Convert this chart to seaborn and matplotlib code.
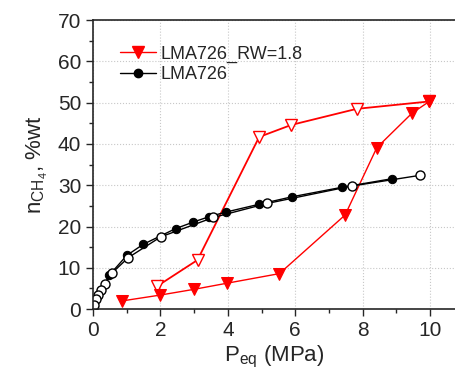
"""Isoterma de CH4 - LMA726."""
from matplotlib import pyplot as plt
from matplotlib.lines import Line2D
import seaborn as sns

# LMA726_RW=1.8 (adsorcao, simbolos cheios)
rw_ads_p = [0.87, 1.99, 3.00, 3.99, 5.53, 7.48, 8.42, 9.47, 9.98]
rw_ads_n = [2.0, 3.4, 4.8, 6.3, 8.6, 22.8, 39.1, 47.5, 50.3]
# LMA726_RW=1.8 (dessorcao, simbolos vazios)
rw_des_p = [9.98, 7.82, 5.88, 4.93, 3.10, 1.91]
rw_des_n = [50.3, 48.5, 44.6, 41.7, 11.9, 5.6]

# LMA726 (adsorcao)
ads_p = [0.03, 0.48, 1.00, 1.49, 2.45, 2.98, 3.45, 3.94, 4.93, 5.90, 7.38, 8.88]
ads_n = [0.5, 8.2, 13.0, 15.7, 19.5, 21.1, 22.4, 23.5, 25.4, 27.2, 29.5, 31.6]
# LMA726 (dessorcao)
des_p = [9.70, 7.67, 5.17, 3.57, 2.01, 1.05, 0.57, 0.35, 0.23, 0.14, 0.08, 0.02]
des_n = [32.4, 29.8, 25.6, 22.2, 17.5, 12.5, 8.8, 6.2, 4.6, 3.4, 2.4, 1.0]

labels = ["LMA726_RW=1.8", "LMA726"]

sns.set_style("ticks")
plt.rcParams["font.family"] = ["Liberation Sans", "DejaVu Sans"]
plt.rcParams["mathtext.default"] = "regular"

fig = plt.figure(figsize=(4.56, 3.72), dpi=100)
ax = fig.add_axes([0.204, 0.169, 0.796, 0.777])

red = "#ff0000"
# dessorcao primeiro, adsorcao por cima
sns.lineplot(x=rw_des_p, y=rw_des_n, sort=False, estimator=None, ax=ax,
             color=red, lw=1.3, marker="v", markersize=8.5, mec=red, mfc="white",
             mew=1.0)
sns.lineplot(x=rw_ads_p, y=rw_ads_n, sort=False, estimator=None, ax=ax,
             color=red, lw=1.0, marker="v", markersize=8.5, mec=red, mfc=red)
sns.lineplot(x=ads_p, y=ads_n, sort=False, estimator=None, ax=ax,
             color="black", lw=1.0, marker="o", markersize=6, mec="black",
             mfc="black")
sns.lineplot(x=des_p, y=des_n, sort=False, estimator=None, ax=ax,
             color="black", lw=1.0, marker="o", markersize=6.5, mec="black",
             mfc="white", mew=1.0)

ax.set_xlim(0, 10.77)
ax.set_ylim(0, 70)
ax.set_xticks([0, 2, 4, 6, 8, 10])
ax.set_xticks([1, 3, 5, 7, 9], minor=True)
ax.set_yticks(range(0, 71, 10))
ax.set_yticks(range(5, 70, 10), minor=True)
ax.tick_params(axis="both", which="major", labelsize=15, length=5, width=1)
ax.tick_params(axis="both", which="minor", length=3, width=1)
ax.grid(True, which="major", ls=":", color="#c8c8c8", lw=0.8)
for s in ["left", "bottom", "top"]:
    ax.spines[s].set_linewidth(1.2)
ax.spines["right"].set_visible(False)

ax.set_xlabel("P$_{eq}$ (MPa)", fontsize=16, labelpad=3)
ax.set_ylabel("n$_{CH_4}$, %wt", fontsize=16, labelpad=6)

handles = [
    Line2D([], [], color=red, lw=1.0, marker="v", markersize=8, mfc=red, mec=red),
    Line2D([], [], color="black", lw=1.0, marker="o", markersize=6,
           mfc="black", mec="black"),
]
ax.legend(handles, labels, loc="upper left", bbox_to_anchor=(0.045, 0.95),
          frameon=False, fontsize=13, handlelength=2.0, handletextpad=0.25,
          labelspacing=0.2, borderaxespad=0.2)

fig.savefig("out.png", dpi=100)
